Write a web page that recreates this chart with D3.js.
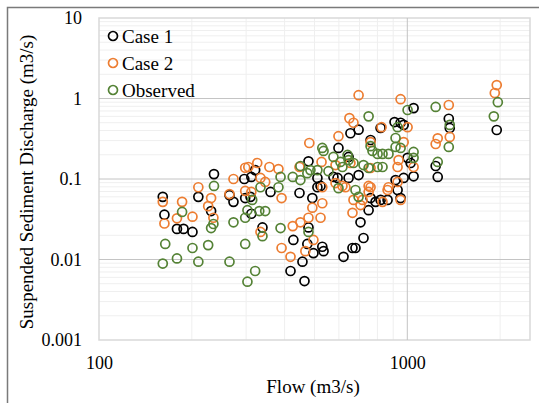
<!DOCTYPE html>
<html>
<head>
<meta charset="utf-8">
<script src="https://cdnjs.cloudflare.com/ajax/libs/d3/7.8.5/d3.min.js"></script>
<style>
  body { margin: 0; background: #fff; }
  svg { display: block; font-family: "Liberation Serif", "Times New Roman", serif; }
  .grid-minor { stroke: #efefef; stroke-width: 1; }
  .grid-major { stroke: #c4c4c4; stroke-width: 1; }
  .axis text { font-family: "Liberation Serif", "Times New Roman", serif; font-size: 18px; fill: #000; }
</style>
</head>
<body>
<svg id="chart" width="539" height="403"></svg>
<script>
// Data (flow m3/s, sediment discharge m3/s)
const case1Flow = [161,163,179,188,201,210,236,231,265,273,296,298,312,321,360,447,492,310,312,339,427,478,474,496,530,535,457,418,464,511,621,664,679,721,705,749,789,819,863,760,951,930,1048,654,695,819,909,951,973,760,598,645,1002,1025,695,594,645,973,1048,916,1363,1373,1950,1236,1255,478,576,523,511]
const case1Sed = [0.060,0.036,0.024,0.024,0.022,0.060,0.115,0.040,0.063,0.052,0.10,0.058,0.106,0.129,0.069,0.067,0.058,0.060,0.037,0.025,0.0175,0.025,0.0156,0.012,0.0144,0.0127,0.0094,0.0072,0.0054,0.079,0.0108,0.0139,0.0139,0.0185,0.029,0.041,0.052,0.055,0.055,0.058,0.058,0.073,0.76,0.37,0.41,0.43,0.51,0.50,0.47,0.305,0.243,0.188,0.183,0.158,0.112,0.103,0.103,0.103,0.108,0.097,0.56,0.43,0.406,0.145,0.106,0.166,0.106,0.082,0.103]

const case2Flow = [161,163,179,186,201,210,231,226,235,265,273,298,298,312,391,492,530,478,523,425,450,391,418,467,496,334,530,664,705,669,716,749,760,831,863,951,630,695,951,649,669,598,825,760,1002,973,937,1048,930,654,760,616,749,869,930,1950,1922,1363,1255,1236,1373,481,527,585,326,305,357,382,334,346,447,585]
const case2Sed = [0.052,0.028,0.0325,0.052,0.034,0.079,0.058,0.046,0.033,0.065,0.100,0.071,0.138,0.069,0.058,0.044,0.050,0.033,0.033,0.026,0.029,0.0139,0.0108,0.0127,0.0175,0.022,0.079,0.038,0.0475,0.055,0.055,0.069,0.079,0.052,0.073,0.055,0.079,1.10,0.98,0.57,0.50,0.34,0.44,0.287,0.44,0.287,0.172,0.141,0.141,0.158,0.137,0.082,0.082,0.079,0.092,1.47,1.17,0.83,0.32,0.272,0.333,0.28,0.163,0.149,0.158,0.141,0.141,0.133,0.103,0.092,0.141,0.089]

const obsFlow = [236,186,164,161,179,201,210,226,265,273,231,235,298,298,303,303,321,314,331,346,388,339,478,382,334,679,695,749,1002,930,916,760,771,916,951,831,869,801,1048,1048,640,645,669,721,616,801,831,749,607,1236,1966,1908,1373,1363,1255,530,535,576,388,425,450,474,511,555,485,450,598]
const obsSed = [0.082,0.039,0.0156,0.0089,0.0103,0.0139,0.0094,0.0151,0.0094,0.029,0.0246,0.0276,0.033,0.0156,0.0053,0.041,0.0072,0.055,0.040,0.040,0.0246,0.0195,0.022,0.079,0.079,0.073,0.060,0.60,0.72,0.44,0.323,0.256,0.223,0.25,0.243,0.205,0.205,0.205,0.217,0.183,0.199,0.172,0.158,0.149,0.141,0.141,0.141,0.137,0.163,0.785,0.90,0.60,0.47,0.25,0.163,0.243,0.223,0.188,0.106,0.106,0.145,0.118,0.129,0.125,0.129,0.097,0.077]

const seriesNames = ['Case 1', 'Case 2', 'Observed']
const seriesColors = ['#000000', '#ed7d31', '#548235']
const xTicks = [100, 1000]
const yTicks = [0.001, 0.01, 0.1, 1, 10]

// Layout
const plotLeft = 99, plotRight = 530, plotTop = 18, plotBottom = 340
const markerR = 4.5, markerW = 1.7

const svg = d3.select('#chart')

// Outer chart border (cropped at right and bottom)
svg.append('rect')
    .attr('x', 7.5).attr('y', 7.5)
    .attr('width', 700).attr('height', 600)
    .attr('fill', '#fff')
    .attr('stroke', '#7a7a7a')
    .attr('stroke-width', 1.5)

// Scales
const xScale = d3.scaleLog().domain([100, 2500]).range([plotLeft, plotRight])
const yScale = d3.scaleLog().domain([0.001, 10]).range([plotBottom, plotTop])

// Gridlines
const xMinor = [], yMinor = []
;[100, 1000].forEach(d => d3.range(2, 10).forEach(k => { if (d*k < 2500) xMinor.push(d*k) }))
;[0.001, 0.01, 0.1, 1].forEach(d => d3.range(2, 10).forEach(k => yMinor.push(d*k)))

const grid = svg.append('g')

grid.selectAll('.xminor').data(xMinor).enter().append('line')
    .attr('class', 'grid-minor')
    .attr('x1', d => xScale(d)).attr('x2', d => xScale(d))
    .attr('y1', plotTop).attr('y2', plotBottom)

grid.selectAll('.yminor').data(yMinor).enter().append('line')
    .attr('class', 'grid-minor')
    .attr('y1', d => yScale(d)).attr('y2', d => yScale(d))
    .attr('x1', plotLeft).attr('x2', plotRight)

// Plot area border
grid.append('rect')
    .attr('x', plotLeft).attr('y', plotTop)
    .attr('width', plotRight - plotLeft).attr('height', plotBottom - plotTop)
    .attr('fill', 'none')
    .attr('stroke', '#d9d9d9')
    .attr('stroke-width', 1.5)

grid.selectAll('.xmajor').data([1000]).enter().append('line')
    .attr('class', 'grid-major')
    .attr('x1', d => xScale(d)).attr('x2', d => xScale(d))
    .attr('y1', plotTop).attr('y2', plotBottom)

grid.selectAll('.ymajor').data([0.01, 0.1, 1]).enter().append('line')
    .attr('class', 'grid-major')
    .attr('y1', d => yScale(d)).attr('y2', d => yScale(d))
    .attr('x1', plotLeft).attr('x2', plotRight)

// Axes
const xAxis = d3.axisBottom(xScale)
    .tickValues(xTicks)
    .tickFormat(d3.format('d'))
    .tickSize(0)
    .tickPadding(16)
const yAxis = d3.axisLeft(yScale)
    .tickValues(yTicks)
    .tickFormat(d3.format('~g'))
    .tickSize(0)
    .tickPadding(17)

svg.append('g')
    .attr('class', 'axis')
    .attr('transform', 'translate(0,' + plotBottom + ')')
    .call(xAxis)
    .call(g => g.select('.domain').remove())

svg.append('g')
    .attr('class', 'axis')
    .attr('transform', 'translate(' + plotLeft + ',0)')
    .call(yAxis)
    .call(g => g.select('.domain').remove())

// Axis titles
svg.append('text')
    .attr('x', 313).attr('y', 393)
    .attr('text-anchor', 'middle')
    .style('font-size', '19px')
    .text('Flow (m3/s)')

svg.append('text')
    .attr('transform', 'translate(33,182) rotate(-90)')
    .attr('text-anchor', 'middle')
    .style('font-size', '19px')
    .text('Suspended Sediment Discharge (m3/s)')

// Scatter points
const series = [
    {flow: case1Flow, sed: case1Sed},
    {flow: case2Flow, sed: case2Sed},
    {flow: obsFlow, sed: obsSed}
]

series.forEach((s, i) => {
    svg.append('g')
        .selectAll('circle')
        .data(s.flow.map((f, j) => [f, s.sed[j]]))
        .enter()
        .append('circle')
        .attr('cx', d => xScale(d[0]))
        .attr('cy', d => yScale(d[1]))
        .attr('r', markerR)
        .attr('fill', 'none')
        .attr('stroke', seriesColors[i])
        .attr('stroke-width', markerW)
})

// Legend
const legend = svg.append('g')
    .selectAll('g')
    .data(seriesNames)
    .enter()
    .append('g')
    .attr('transform', (_, i) => 'translate(113,' + (36 + i*27) + ')')

legend.append('circle')
    .attr('r', markerR)
    .attr('fill', 'none')
    .attr('stroke', (_, i) => seriesColors[i])
    .attr('stroke-width', markerW)

legend.append('text')
    .attr('x', 9).attr('y', 6.5)
    .style('font-size', '19px')
    .text(d => d)
</script>
</body>
</html>
